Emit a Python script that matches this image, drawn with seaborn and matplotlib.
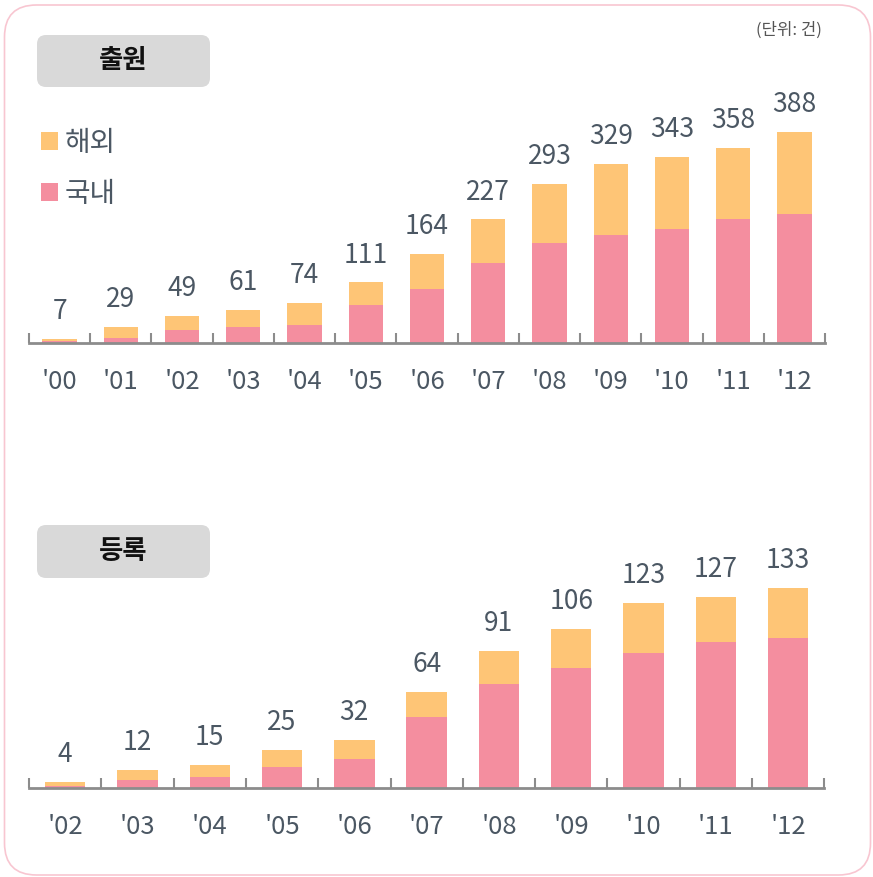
import matplotlib
matplotlib.use("Agg")
import matplotlib.pyplot as plt
from matplotlib.patches import FancyBboxPatch, Patch
import seaborn as sns
import pandas as pd

# ---------------- data ----------------
app_years = ["'00", "'01", "'02", "'03", "'04", "'05", "'06", "'07", "'08", "'09", "'10", "'11", "'12"]
app_total = [7, 29, 49, 61, 74, 111, 164, 227, 293, 329, 343, 358, 388]
app_domestic = [3, 9, 24, 29, 33, 69, 99, 146, 183, 199, 209, 227, 237]

reg_years = ["'02", "'03", "'04", "'05", "'06", "'07", "'08", "'09", "'10", "'11", "'12"]
reg_total = [4, 12, 15, 25, 32, 64, 91, 106, 123, 127, 133]
reg_domestic = [1, 5, 7, 14, 19, 47, 69, 80, 90, 97, 100]

ORANGE = "#FEC576"
PINK = "#F48E9F"
TEXT = "#4b5763"
AXIS = "#8c8c8c"

sns.set_style("white")
plt.rcParams["font.family"] = ["Noto Sans CJK KR", "DejaVu Sans"]

W, H = 873, 877
fig = plt.figure(figsize=(W / 100, H / 100), dpi=100)


def px_axes(left, right, top, bottom):
    # pixel box (from top-left) -> figure fraction rect
    return [left / W, (H - bottom) / H, (right - left) / W, (bottom - top) / H]


def draw_panel(ax, years, total, domestic, ymax):
    df = pd.DataFrame({"year": years, "total": total, "domestic": domestic})
    sns.barplot(data=df, x="year", y="total", color=ORANGE, width=0.56,
                saturation=1, ax=ax, linewidth=0)
    sns.barplot(data=df, x="year", y="domestic", color=PINK, width=0.56,
                saturation=1, ax=ax, linewidth=0)
    ax.bar_label(ax.containers[0], labels=[str(v) for v in total],
                 padding=10, fontsize=19, color=TEXT)
    n = len(years)
    ax.set_xlim(-0.5, n - 0.5)
    ax.set_ylim(0, ymax)
    ax.set_xlabel("")
    ax.set_ylabel("")
    ax.set_yticks([])
    ax.set_facecolor("none")
    for s in ["top", "left", "right"]:
        ax.spines[s].set_visible(False)
    ax.spines["bottom"].set_color(AXIS)
    ax.spines["bottom"].set_linewidth(2)
    ax.set_xticks([i - 0.5 for i in range(n + 1)], minor=True)
    ax.tick_params(axis="x", which="minor", bottom=True, direction="in", length=7,
                   width=1.5, color=AXIS)
    ax.tick_params(axis="x", which="major", bottom=True, length=0, pad=19,
                   labelsize=18.5, labelcolor=TEXT)


ax1 = fig.add_axes(px_axes(29, 825, 80, 342.7))
draw_panel(ax1, app_years, app_total, app_domestic, 484)

ax2 = fig.add_axes(px_axes(29, 824.3, 525, 787.7))
draw_panel(ax2, reg_years, reg_total, reg_domestic, 175)

# ---------------- outer border ----------------
border = FancyBboxPatch((4.5 / 100, 2 / 100), 866 / 100, 870 / 100,
                        boxstyle="round,pad=0,rounding_size=0.32",
                        transform=fig.dpi_scale_trans, fill=False,
                        edgecolor="#f8c6d1", linewidth=1.2, zorder=0)
fig.patches.append(border)

# ---------------- title boxes ----------------
for title, top, bottom in [("출원", 35, 87), ("등록", 525, 578)]:
    box = FancyBboxPatch((37 / 100, (H - bottom) / 100), 173 / 100, (bottom - top) / 100,
                         boxstyle="round,pad=0,rounding_size=0.09",
                         transform=fig.dpi_scale_trans, facecolor="#d9d9d9",
                         edgecolor="none", zorder=0)
    fig.patches.append(box)
    fig.text(123.5 / W, 1 - (top + bottom) / 2 / H, title, ha="center", va="center",
             fontsize=19, fontweight="bold", color="#111111")

# ---------------- legend ----------------
handles = [Patch(facecolor=ORANGE, edgecolor="none", label="해외"),
           Patch(facecolor=PINK, edgecolor="none", label="국내")]
fig.legend(handles=handles, loc="upper left", bbox_to_anchor=(27 / W, 1 - 114 / H),
           frameon=False, fontsize=20, handlelength=0.6, handleheight=0.6,
           handletextpad=0.25, labelspacing=0.75, borderpad=0, labelcolor=TEXT)

fig.text(822 / W, 1 - 30 / H, "(단위: 건)", ha="right", va="center",
         fontsize=12, color="#555555")

fig.savefig("out.png", dpi=100)
